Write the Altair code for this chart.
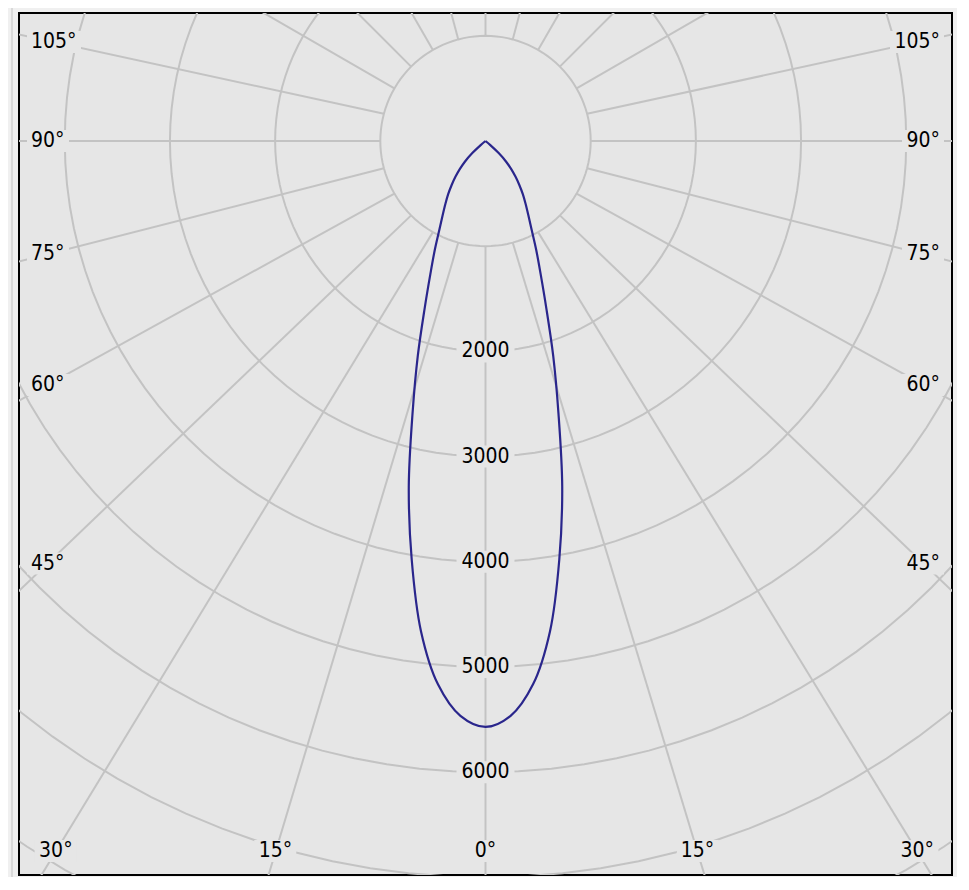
import math
import altair as alt
import pandas as pd

# ---------------- data ----------------
# luminous intensity (cd) against the angle from the downward vertical
CURVE_ANGLES = [0, 2.5, 5, 7.5, 10, 12.5, 15, 17.5, 20, 22.5, 25, 27.5, 30, 32.5,
                35, 37.5, 40, 42.5, 45, 47.5, 50, 55, 60, 75, 90, 105, 120, 135, 150, 165, 180]
CURVE_CD = [5570, 5470, 5185, 4700, 4040, 3370, 2680, 2140, 1690, 1370, 1140, 950, 815, 710,
            620, 530, 445, 360, 275, 170, 60, 0, 0, 0, 0, 0, 0, 0, 0, 0, 0]
GRID_CD = [1000, 2000, 3000, 4000, 5000, 6000, 7000, 8000]
RADIUS_LABEL_CD = [2000, 3000, 4000, 5000, 6000]
SPOKE_ANGLES = list(range(0, 360, 15))
BOTTOM_LABEL_ANGLES = [0, 15, 30]
SIDE_LABEL_ANGLES = [45, 60, 75, 90, 105]

# ---------------- layout ----------------
W, H = 933, 862
XMIN, XMAX = -4435.0, 4435.0
YMIN, YMAX = -6978.0, 1217.0
PX = (XMAX - XMIN) / W          # cd per pixel

BG_PLOT = "#e6e6e6"
BG_OUT = "#f0f0f0"
PANEL_EDGE = "#d2d2d2"
GRID = "#c3c3c3"
CURVE = "#2a268c"
FONT = "DejaVu Sans Condensed, Liberation Sans, sans-serif"
FS = 21

xs = alt.Scale(domain=[XMIN, XMAX], nice=False, zero=False)
ys = alt.Scale(domain=[YMIN, YMAX], nice=False, zero=False)


def X(f):
    return alt.X(f, type="quantitative", scale=xs, axis=None)


def Y(f):
    return alt.Y(f, type="quantitative", scale=ys, axis=None)


def text_width(s):
    return sum(9.0 if ch == "°" else 12.0 for ch in s)


# ---- labels (text, anchor x, y, align, angle key) ----
labels = []
for r in RADIUS_LABEL_CD:
    labels.append((str(r), 0.0, -float(r), "center", -1))

ybot = -710 * PX
for a in BOTTOM_LABEL_ANGLES:
    sx = -ybot * math.tan(math.radians(a))
    if a == 0:
        labels.append((f"{a}°", 0.0, ybot, "center", 0))
    else:
        labels.append((f"{a}°", -(sx + 3 * PX), ybot, "right", 360 - a))
        labels.append((f"{a}°", sx + 5 * PX, ybot, "left", a))

side_dx = (XMAX - 44 * PX)
ytop_limit = YMAX - 29 * PX
for a in SIDE_LABEL_ANGLES:
    yy = 0.0 if a == 90 else -side_dx / math.tan(math.radians(a))
    yy = min(yy, ytop_limit)
    labels.append((f"{a}°", XMIN + 12 * PX, yy, "left", 360 - a))
    labels.append((f"{a}°", XMAX - 12 * PX, yy, "right", a))

lab_df = pd.DataFrame(labels, columns=["text", "x", "y", "align", "akey"])
bx1, bx2, cx = [], [], []
for _, row in lab_df.iterrows():
    tw = text_width(row["text"]) * PX
    if row["align"] == "center":
        bx1.append(row["x"] - tw / 2 - 5 * PX)
        bx2.append(row["x"] + tw / 2 + 5 * PX)
        cx.append(row["x"])
    elif row["align"] == "left":
        bx1.append(row["x"] - 4 * PX)
        bx2.append(row["x"] + tw + 5 * PX)
        cx.append(row["x"] + tw / 2)
    else:
        bx1.append(row["x"] - tw - 5 * PX)
        bx2.append(row["x"] + 4 * PX)
        cx.append(row["x"] - tw / 2)
lab_df["bx1"] = bx1
lab_df["bx2"] = bx2
lab_df["cx"] = cx
lab_df["by1"] = lab_df["y"] - 11 * PX
lab_df["by2"] = lab_df["y"] + 11 * PX

# label centres by spoke angle: the spokes run from the inner circle through them
centre_of = {}
for _, row in lab_df.iterrows():
    if int(row["akey"]) >= 0:
        centre_of[int(row["akey"])] = (row["cx"], row["y"])

# ---- grid circles ----
circ_df = pd.DataFrame([{"r": r, "a": a} for r in GRID_CD for a in range(0, 361, 3)])
circles = (
    alt.Chart(circ_df)
    .transform_calculate(x="datum.r*sin(datum.a*PI/180)", y="-datum.r*cos(datum.a*PI/180)")
    .mark_line(color=GRID, strokeWidth=2, clip=True)
    .encode(x=X("x"), y=Y("y"), detail="r:N", order="a:Q")
)

# ---- spokes ----
sp_rows = []
r0 = GRID_CD[0]
for a in SPOKE_ANGLES:
    x0 = r0 * math.sin(math.radians(a))
    y0 = -r0 * math.cos(math.radians(a))
    if a in centre_of:
        tx, ty = centre_of[a]
        dx, dy = tx - x0, ty - y0
    else:
        dx, dy = x0, y0
    n = math.hypot(dx, dy)
    L = 12000.0
    sp_rows.append({"x": x0, "y": y0, "x2": x0 + dx / n * L, "y2": y0 + dy / n * L})
spoke_df = pd.DataFrame(sp_rows)
spokes = (
    alt.Chart(spoke_df)
    .mark_rule(color=GRID, strokeWidth=2, clip=True)
    .encode(x=X("x"), y=Y("y"), x2="x2:Q", y2="y2:Q")
)

boxes = (
    alt.Chart(lab_df)
    .mark_rect(color=BG_PLOT)
    .encode(x=X("bx1"), x2="bx2:Q", y=Y("by1"), y2="by2:Q")
)

texts = []
for al in ["center", "left", "right"]:
    sub = lab_df[lab_df["align"] == al]
    texts.append(
        alt.Chart(sub)
        .mark_text(align=al, baseline="middle", font=FONT, fontSize=FS, color="#000000")
        .encode(x=X("x"), y=Y("y"), text="text:N")
    )

# ---- panel edge line left of the frame ----
edge_df = pd.DataFrame({"x": [XMIN - 7 * PX], "y": [YMAX + 10 * PX], "y2": [YMIN - 10 * PX]})
edge = (
    alt.Chart(edge_df)
    .mark_rule(color=PANEL_EDGE, strokeWidth=1.5)
    .encode(x=X("x"), y=Y("y"), y2="y2:Q")
)

# ---- intensity curve (C0 half on the right, C180 half on the left) ----
first_zero = next(i for i, v in enumerate(CURVE_CD) if v == 0)
ang = CURVE_ANGLES[: first_zero + 1]
cdv = CURVE_CD[: first_zero + 1]
rows = []
k = 0
for a, v in zip(ang[::-1], cdv[::-1]):
    rows.append({"a": a, "cd": v, "side": 1, "ord": k})
    k += 1
for a, v in zip(ang[1:], cdv[1:]):
    rows.append({"a": a, "cd": v, "side": -1, "ord": k})
    k += 1
curve_df = pd.DataFrame(rows)
curve = (
    alt.Chart(curve_df)
    .transform_calculate(
        x="datum.side*datum.cd*sin(datum.a*PI/180)",
        y="-datum.cd*cos(datum.a*PI/180)",
    )
    .mark_line(color=CURVE, strokeWidth=2.2, clip=True, interpolate="catmull-rom")
    .encode(x=X("x"), y=Y("y"), order="ord:Q")
)

chart = (
    alt.layer(edge, circles, spokes, boxes, curve, *texts)
    .properties(
        width=W,
        height=H,
        padding={"left": 11, "top": 5, "right": 5, "bottom": 2},
        background=BG_OUT,
        autosize=alt.AutoSizeParams(type="none"),
    )
    .configure_view(fill=BG_PLOT, stroke="#000000", strokeWidth=2)
)

chart.save("out.html", embed_options={"renderer": "svg", "actions": False})
